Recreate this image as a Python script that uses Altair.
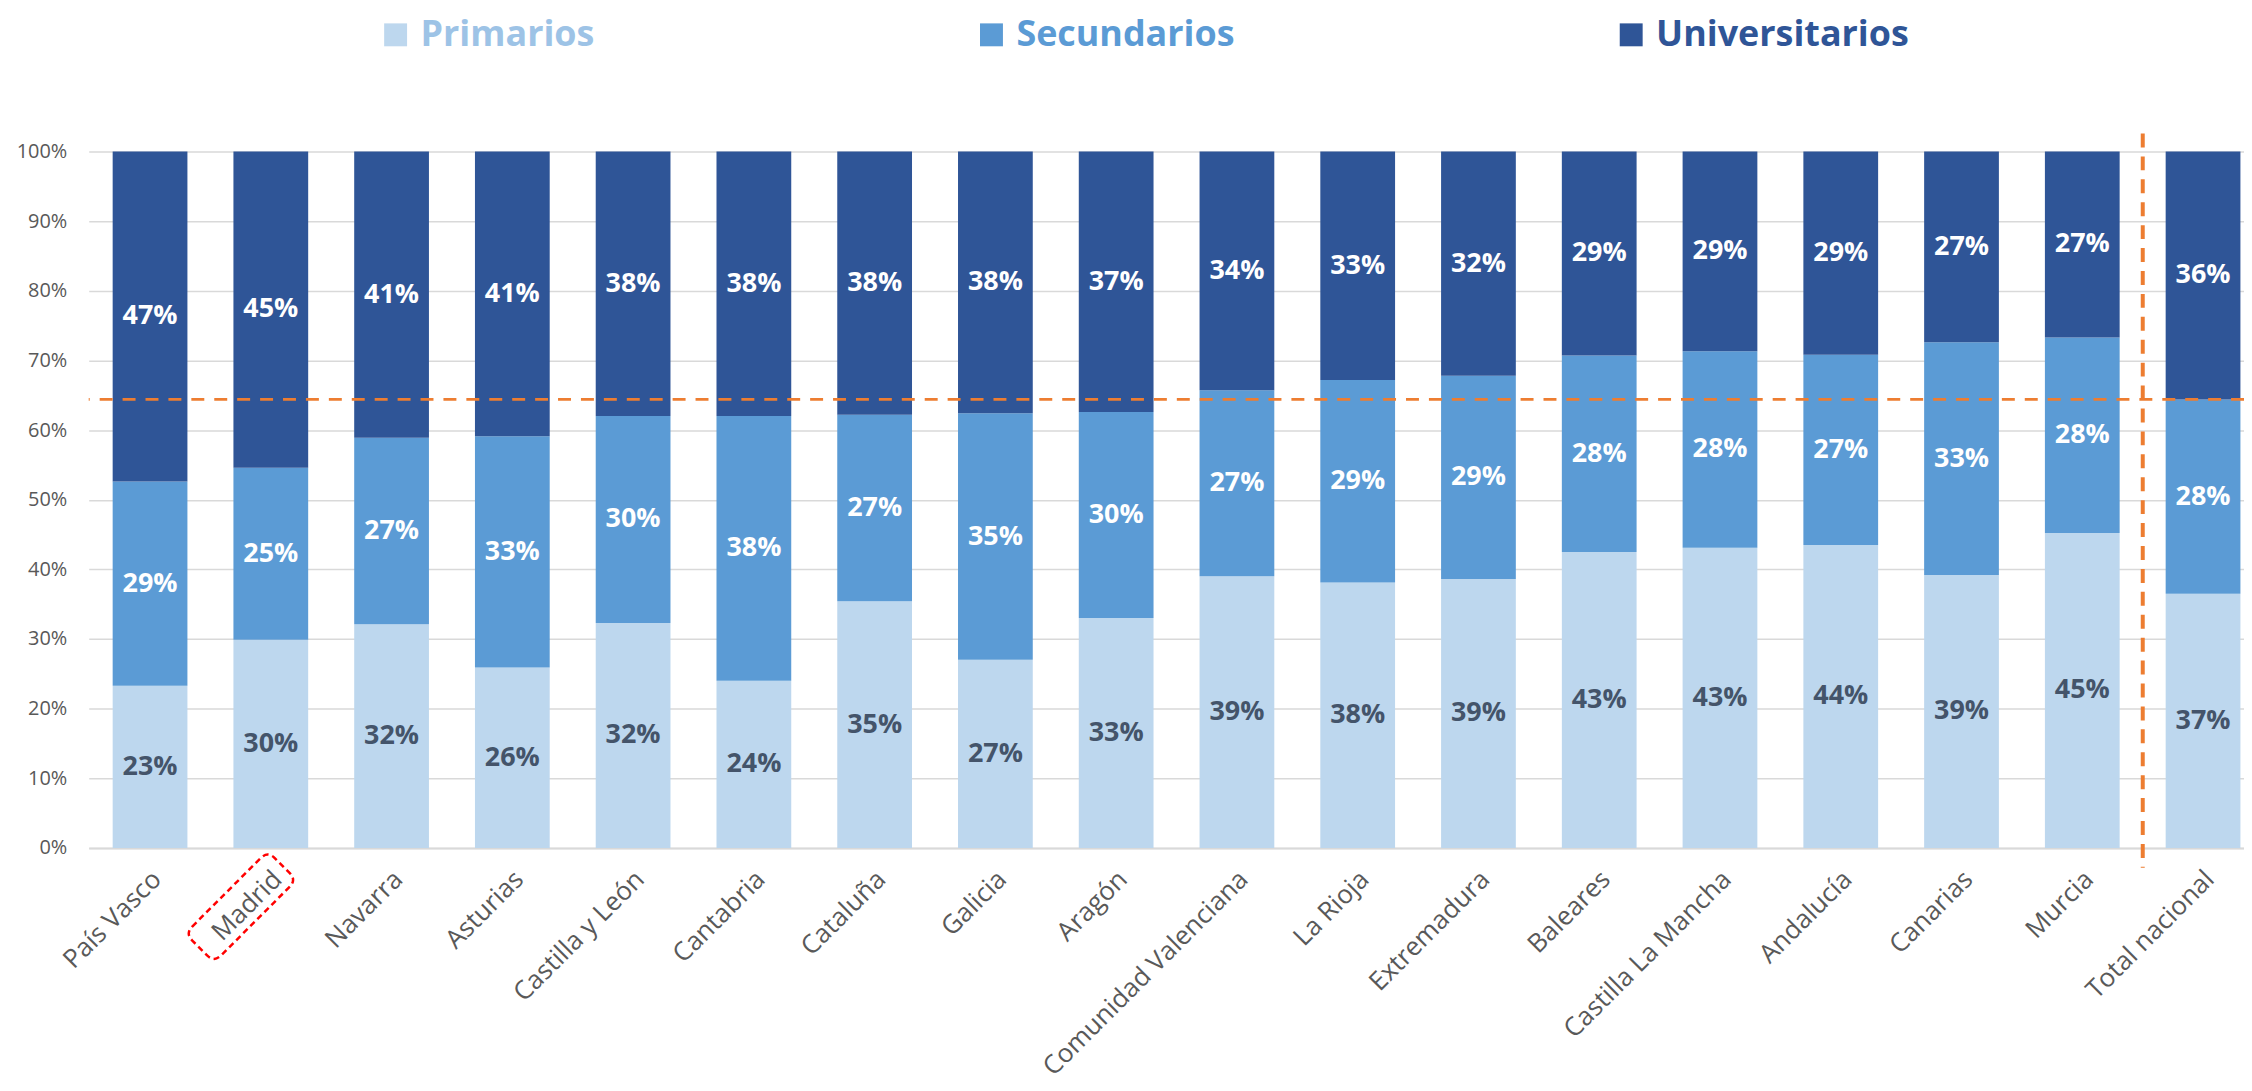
import altair as alt
import pandas as pd

# ---------------- data ----------------
regions = ["País Vasco", "Madrid", "Navarra", "Asturias", "Castilla y León", "Cantabria",
           "Cataluña", "Galicia", "Aragón", "Comunidad Valenciana", "La Rioja", "Extremadura",
           "Baleares", "Castilla La Mancha", "Andalucía", "Canarias", "Murcia", "Total nacional"]
primarios = [23.3, 29.9, 32.1, 25.9, 32.3, 24.0, 35.4, 27.0, 33.0, 39.0, 38.1, 38.6,
             42.5, 43.1, 43.5, 39.2, 45.2, 36.5]
secundarios = [29.3, 24.7, 26.8, 33.2, 29.7, 38.0, 26.8, 35.4, 29.6, 26.7, 29.1, 29.2,
               28.2, 28.2, 27.3, 33.4, 28.1, 27.9]
universitarios = [47.4, 45.4, 41.1, 40.9, 38.0, 38.0, 37.8, 37.6, 37.4, 34.3, 32.8, 32.2,
                  29.3, 28.7, 29.2, 27.4, 26.7, 35.6]
levels = ["Primarios", "Secundarios", "Universitarios"]
bar_colors = ["#BDD7EE", "#5B9BD5", "#2F5597"]
legend_text_colors = ["#9DC3E6", "#5B9BD5", "#2F5597"]
value_label_colors = ["#44546A", "#FFFFFF", "#FFFFFF"]
y_ticks = list(range(0, 101, 10))
highlight_region = "Madrid"
separator_region = "Total nacional"

# national reference line: top of the non-university share for the national total
threshold = primarios[-1] + secundarios[-1]

rows = []
for i, r in enumerate(regions):
    for k, (lvl, vals) in enumerate(zip(levels, [primarios, secundarios, universitarios])):
        rows.append({"region": r, "level": lvl, "ord": k, "value": vals[i],
                     "lcolor": value_label_colors[k]})
df = pd.DataFrame(rows)

FONT = "Open Sans"
GRID = "#D9D9D9"
AXIS_TXT = "#595959"
ORANGE = "#ED7D31"

W, H = 2163, 699

xscale = alt.Scale(domain=regions, paddingInner=0.381, paddingOuter=0.114, align=0.87,
                   round=False)
xaxis = alt.Axis(title=None, labelAngle=-45, labelAlign="right", labelBaseline="middle",
                 labelFont=FONT, labelFontSize=26, labelColor=AXIS_TXT, labelPadding=27,
                 labelOffset=7, ticks=False, tickSize=0, domain=True, domainColor=GRID,
                 domainWidth=2, grid=False, labelLimit=600)
yscale = alt.Scale(domain=[0, 100], nice=False, zero=True)
yaxis = alt.Axis(title=None, values=y_ticks, labelExpr="datum.value + '%'", grid=True,
                 gridColor=GRID, gridWidth=1.5, domain=False, ticks=False, tickSize=0,
                 labelPadding=22, labelFont=FONT, labelFontSize=20, labelColor=AXIS_TXT)

label_color_expr = " : ".join(
    [f"datum.value === '{l}' ? '{c}'" for l, c in zip(levels[:-1], legend_text_colors[:-1])]
) + f" : '{legend_text_colors[-1]}'"

base = alt.Chart(df).transform_stack(
    stack="value", groupby=["region"], sort=[alt.SortField("ord", order="ascending")],
    as_=["v0", "v1"]
).transform_calculate(
    mid="(datum.v0 + datum.v1) / 2",
    label="round(datum.value) + '%'"
)

bars = base.mark_bar(opacity=1).encode(
    x=alt.X("region:N", scale=xscale, axis=xaxis),
    y=alt.Y("v0:Q", scale=yscale, axis=yaxis),
    y2="v1:Q",
    color=alt.Color("level:N", scale=alt.Scale(domain=levels, range=bar_colors),
                    legend=alt.Legend(title=None, orient="none", direction="horizontal",
                                      legendX=290, legendY=-135, padding=0,
                                      symbolType="square", symbolSize=529,
                                      symbolStrokeWidth=0, symbolOpacity=1,
                                      labelFont=FONT, labelFontSize=36, labelFontWeight="bold",
                                      labelColor=alt.ExprRef(expr=label_color_expr),
                                      labelOffset=7, labelLimit=600, columnPadding=380)),
)

texts = base.mark_text(font=FONT, fontWeight="bold", fontSize=27, baseline="middle").encode(
    x=alt.X("region:N", scale=xscale, axis=xaxis),
    y=alt.Y("mid:Q", scale=yscale, axis=yaxis),
    text="label:N",
    color=alt.Color("lcolor:N", scale=None),
)

hline = alt.Chart(pd.DataFrame({"t": [threshold]})).mark_rule(
    color=ORANGE, strokeWidth=3, strokeDash=[13, 10]
).encode(y=alt.Y("t:Q", scale=yscale, axis=yaxis))

vline = alt.Chart(pd.DataFrame({"region": [separator_region]})).mark_rule(
    color=ORANGE, strokeWidth=4, strokeDash=[14, 9], xOffset=-23
).encode(
    x=alt.X("region:N", scale=xscale, axis=xaxis, bandPosition=0),
    y=alt.value(-18), y2=alt.value(H + 20)
)

# rounded rectangle outline (unit coordinates) used to circle the highlighted label
hh, r = 0.35, 0.17
box_path = (f"M {-1 + r},{-hh} L {1 - r},{-hh} Q 1,{-hh} 1,{-hh + r} L 1,{hh - r} "
            f"Q 1,{hh} {1 - r},{hh} L {-1 + r},{hh} Q -1,{hh} -1,{hh - r} "
            f"L -1,{-hh + r} Q -1,{-hh} {-1 + r},{-hh} Z")
box = alt.Chart(pd.DataFrame({"region": [highlight_region]})).mark_point(
    shape=box_path, size=13700, angle=315, filled=False, stroke="#FF0000",
    strokeWidth=2.5, strokeDash=[6, 4], opacity=1, xOffset=-30
).encode(
    x=alt.X("region:N", scale=xscale, axis=xaxis),
    y=alt.value(758)
)

chart = alt.layer(bars, hline, texts, vline, box).resolve_scale(
    color="independent"
).properties(
    width=W, height=H,
    autosize=alt.AutoSizeParams(type="none"),
    padding={"left": 81, "top": 142, "right": 0, "bottom": 240},
).configure_view(stroke=None)

chart.save("out.html", embed_options={"renderer": "svg", "actions": False})
